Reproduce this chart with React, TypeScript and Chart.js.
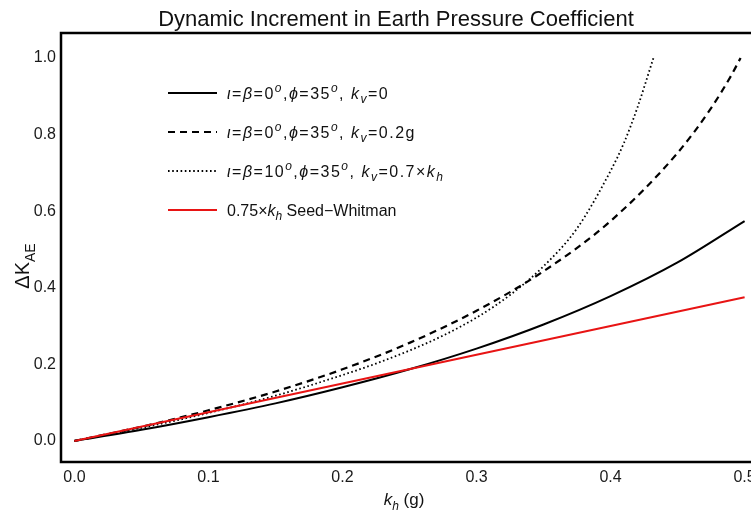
import React, { useEffect, useRef } from "react";
import { Chart, registerables } from "chart.js";
Chart.register(...registerables);

// ---- data ----
const khSolid = [0, 0.05, 0.1, 0.15, 0.2, 0.25, 0.3, 0.35, 0.4, 0.45, 0.5];
const dkSolid = [0, 0.029, 0.062, 0.098, 0.14, 0.187, 0.241, 0.304, 0.378, 0.466, 0.574];
const khDashed = [0, 0.05, 0.1, 0.15, 0.2, 0.25, 0.3, 0.35, 0.4, 0.45, 0.475, 0.49, 0.497];
const dkDashed = [0, 0.037, 0.08, 0.129, 0.187, 0.256, 0.34, 0.443, 0.574, 0.752, 0.869, 0.954, 1.0];
const khDotted = [0, 0.05, 0.1, 0.15, 0.2, 0.225, 0.25, 0.275, 0.3, 0.325, 0.35, 0.375, 0.4, 0.41, 0.42, 0.432];
const dkDotted = [0, 0.034, 0.073, 0.118, 0.172, 0.202, 0.236, 0.275, 0.322, 0.381, 0.456, 0.555, 0.705, 0.778, 0.87, 1.0];
const khSeed = [0, 0.5];
const dkSeed = [0, 0.375];
const xTicks = [0, 0.1, 0.2, 0.3, 0.4, 0.5];
const yTicks = [0, 0.2, 0.4, 0.6, 0.8, 1.0];

const titleText = "Dynamic Increment in Earth Pressure Coefficient";

type Seg = { t: string; it?: boolean; sub?: boolean; sup?: boolean };
const FONT = '"Liberation Sans", Arial, sans-serif';

const legendRows: { segs: Seg[]; color: string; dash: number[]; width: number; spacing: number }[] = [
  {
    segs: [
      { t: "ι", it: true }, { t: "=" }, { t: "β", it: true }, { t: "=0" }, { t: "o", sup: true, it: true },
      { t: "," }, { t: "ϕ", it: true }, { t: "=35" }, { t: "o", sup: true, it: true }, { t: ", " },
      { t: "k", it: true }, { t: "v", it: true, sub: true }, { t: "=0" },
    ],
    color: "#000", dash: [], width: 2, spacing: 1.5,
  },
  {
    segs: [
      { t: "ι", it: true }, { t: "=" }, { t: "β", it: true }, { t: "=0" }, { t: "o", sup: true, it: true },
      { t: "," }, { t: "ϕ", it: true }, { t: "=35" }, { t: "o", sup: true, it: true }, { t: ", " },
      { t: "k", it: true }, { t: "v", it: true, sub: true }, { t: "=0.2g" },
    ],
    color: "#000", dash: [7, 5], width: 2, spacing: 1.5,
  },
  {
    segs: [
      { t: "ι", it: true }, { t: "=" }, { t: "β", it: true }, { t: "=10" }, { t: "o", sup: true, it: true },
      { t: "," }, { t: "ϕ", it: true }, { t: "=35" }, { t: "o", sup: true, it: true }, { t: ", " },
      { t: "k", it: true }, { t: "v", it: true, sub: true }, { t: "=0.7×" },
      { t: "k", it: true }, { t: "h", it: true, sub: true },
    ],
    color: "#000", dash: [1.6, 2.6], width: 1.8, spacing: 1.5,
  },
  {
    segs: [{ t: "0.75×" }, { t: "k", it: true }, { t: "h", it: true, sub: true }, { t: " Seed−Whitman" }],
    color: "#e81414", dash: [], width: 2, spacing: 0,
  },
];

function drawRich(
  ctx: CanvasRenderingContext2D,
  segs: Seg[],
  x: number,
  y: number,
  size: number,
  align: "left" | "center" = "left",
  spacing = 0
) {
  const fontFor = (s: Seg) =>
    `${s.it ? "italic " : ""}${s.sub || s.sup ? Math.round(size * 0.72) : size}px ${FONT}`;
  const chars: { c: string; s: Seg }[] = [];
  for (const s of segs) for (const c of Array.from(s.t)) chars.push({ c, s });
  let total = 0;
  for (const ch of chars) {
    ctx.font = fontFor(ch.s);
    total += ctx.measureText(ch.c).width + spacing;
  }
  let cx = align === "center" ? x - total / 2 : x;
  ctx.textAlign = "left";
  ctx.textBaseline = "alphabetic";
  for (const ch of chars) {
    ctx.font = fontFor(ch.s);
    const dy = ch.s.sub ? size * 0.28 : ch.s.sup ? -size * 0.42 : 0;
    ctx.fillText(ch.c, cx, y + dy);
    cx += ctx.measureText(ch.c).width + spacing;
  }
}

const decorPlugin = {
  id: "decor",
  afterDatasetsDraw(chart: any) {
    const ctx: CanvasRenderingContext2D = chart.ctx;
    const a = chart.chartArea;
    ctx.save();
    // frame
    ctx.strokeStyle = "#000";
    ctx.lineWidth = 2.5;
    ctx.setLineDash([]);
    ctx.strokeRect(a.left, a.top, a.right - a.left, a.bottom - a.top);

    ctx.fillStyle = "#111";
    // title
    drawRich(ctx, [{ t: titleText }], 396, 26, 22, "center");
    // x title
    drawRich(ctx, [{ t: "k", it: true }, { t: "h", it: true, sub: true }, { t: " (g)" }], 404, 505, 17, "center");
    // y title
    ctx.save();
    ctx.translate(22, 266);
    ctx.rotate(-Math.PI / 2);
    drawRich(ctx, [{ t: "ΔK" }, { t: "AE", sub: true }], 0, 7, 20, "center");
    ctx.restore();

    // legend
    const rowY0 = 93;
    const rowStep = 39;
    legendRows.forEach((r, i) => {
      const y = rowY0 + i * rowStep;
      ctx.beginPath();
      ctx.strokeStyle = r.color;
      ctx.lineWidth = r.width;
      ctx.setLineDash(r.dash);
      ctx.moveTo(168, y);
      ctx.lineTo(217, y);
      ctx.stroke();
      ctx.setLineDash([]);
      ctx.fillStyle = "#111";
      drawRich(ctx, r.segs, 227, y + 5.8, 16, "left", r.spacing);
    });
    ctx.restore();
  },
};

function pts(xs: number[], ys: number[]) {
  return xs.map((x, i) => ({ x, y: ys[i] }));
}

export default function App() {
  const ref = useRef<HTMLCanvasElement | null>(null);
  useEffect(() => {
    if (!ref.current) return;
    const chart = new Chart(ref.current, {
      type: "line",
      data: {
        datasets: [
          {
            label: "0.75×kh Seed−Whitman",
            data: pts(khSeed, dkSeed),
            borderColor: "#e81414",
            borderWidth: 2,
            pointRadius: 0,
            order: 0,
          },
          {
            label: "kv=0",
            data: pts(khSolid, dkSolid),
            borderColor: "#000",
            borderWidth: 2,
            pointRadius: 0,
            cubicInterpolationMode: "monotone",
            order: 1,
          },
          {
            label: "kv=0.2g",
            data: pts(khDashed, dkDashed),
            borderColor: "#000",
            borderWidth: 2.2,
            borderDash: [7, 5],
            pointRadius: 0,
            cubicInterpolationMode: "monotone",
            order: 2,
          },
          {
            label: "kv=0.7kh",
            data: pts(khDotted, dkDotted),
            borderColor: "#000",
            borderWidth: 1.8,
            borderDash: [1.6, 2.6],
            pointRadius: 0,
            cubicInterpolationMode: "monotone",
            order: 3,
          },
        ],
      },
      options: {
        animation: false,
        responsive: false,
        maintainAspectRatio: false,
        layout: { padding: { left: 0, top: 33, right: 12, bottom: 0 } },
        plugins: { legend: { display: false }, title: { display: false }, tooltip: { enabled: false } },
        scales: {
          x: {
            type: "linear",
            min: -0.01,
            max: 0.51,
            grid: { display: false, drawTicks: false },
            border: { display: false },
            afterBuildTicks: (s: any) => {
              s.ticks = xTicks.map((v) => ({ value: v }));
            },
            afterFit: (s: any) => {
              s.height = 54;
            },
            ticks: {
              padding: 6,
              color: "#1a1a1a",
              font: { size: 16, family: FONT },
              maxRotation: 0,
              autoSkip: false,
              callback: (v: any) => Number(v).toFixed(1),
            },
          },
          y: {
            type: "linear",
            min: -0.055,
            max: 1.065,
            grid: { display: false, drawTicks: false },
            border: { display: false },
            afterBuildTicks: (s: any) => {
              s.ticks = yTicks.map((v) => ({ value: v }));
            },
            afterFit: (s: any) => {
              s.width = 61;
            },
            ticks: {
              padding: 5,
              color: "#1a1a1a",
              font: { size: 16, family: FONT },
              autoSkip: false,
              callback: (v: any) => Number(v).toFixed(1),
            },
          },
        },
      },
      plugins: [decorPlugin],
    } as any);
    return () => chart.destroy();
  }, []);

  return (
    <div style={{ position: "fixed", left: 0, top: 0, width: 751, height: 516, overflow: "hidden", background: "#fff" }}>
      <canvas ref={ref} width={770} height={516} style={{ width: 770, height: 516, display: "block" }} />
    </div>
  );
}
